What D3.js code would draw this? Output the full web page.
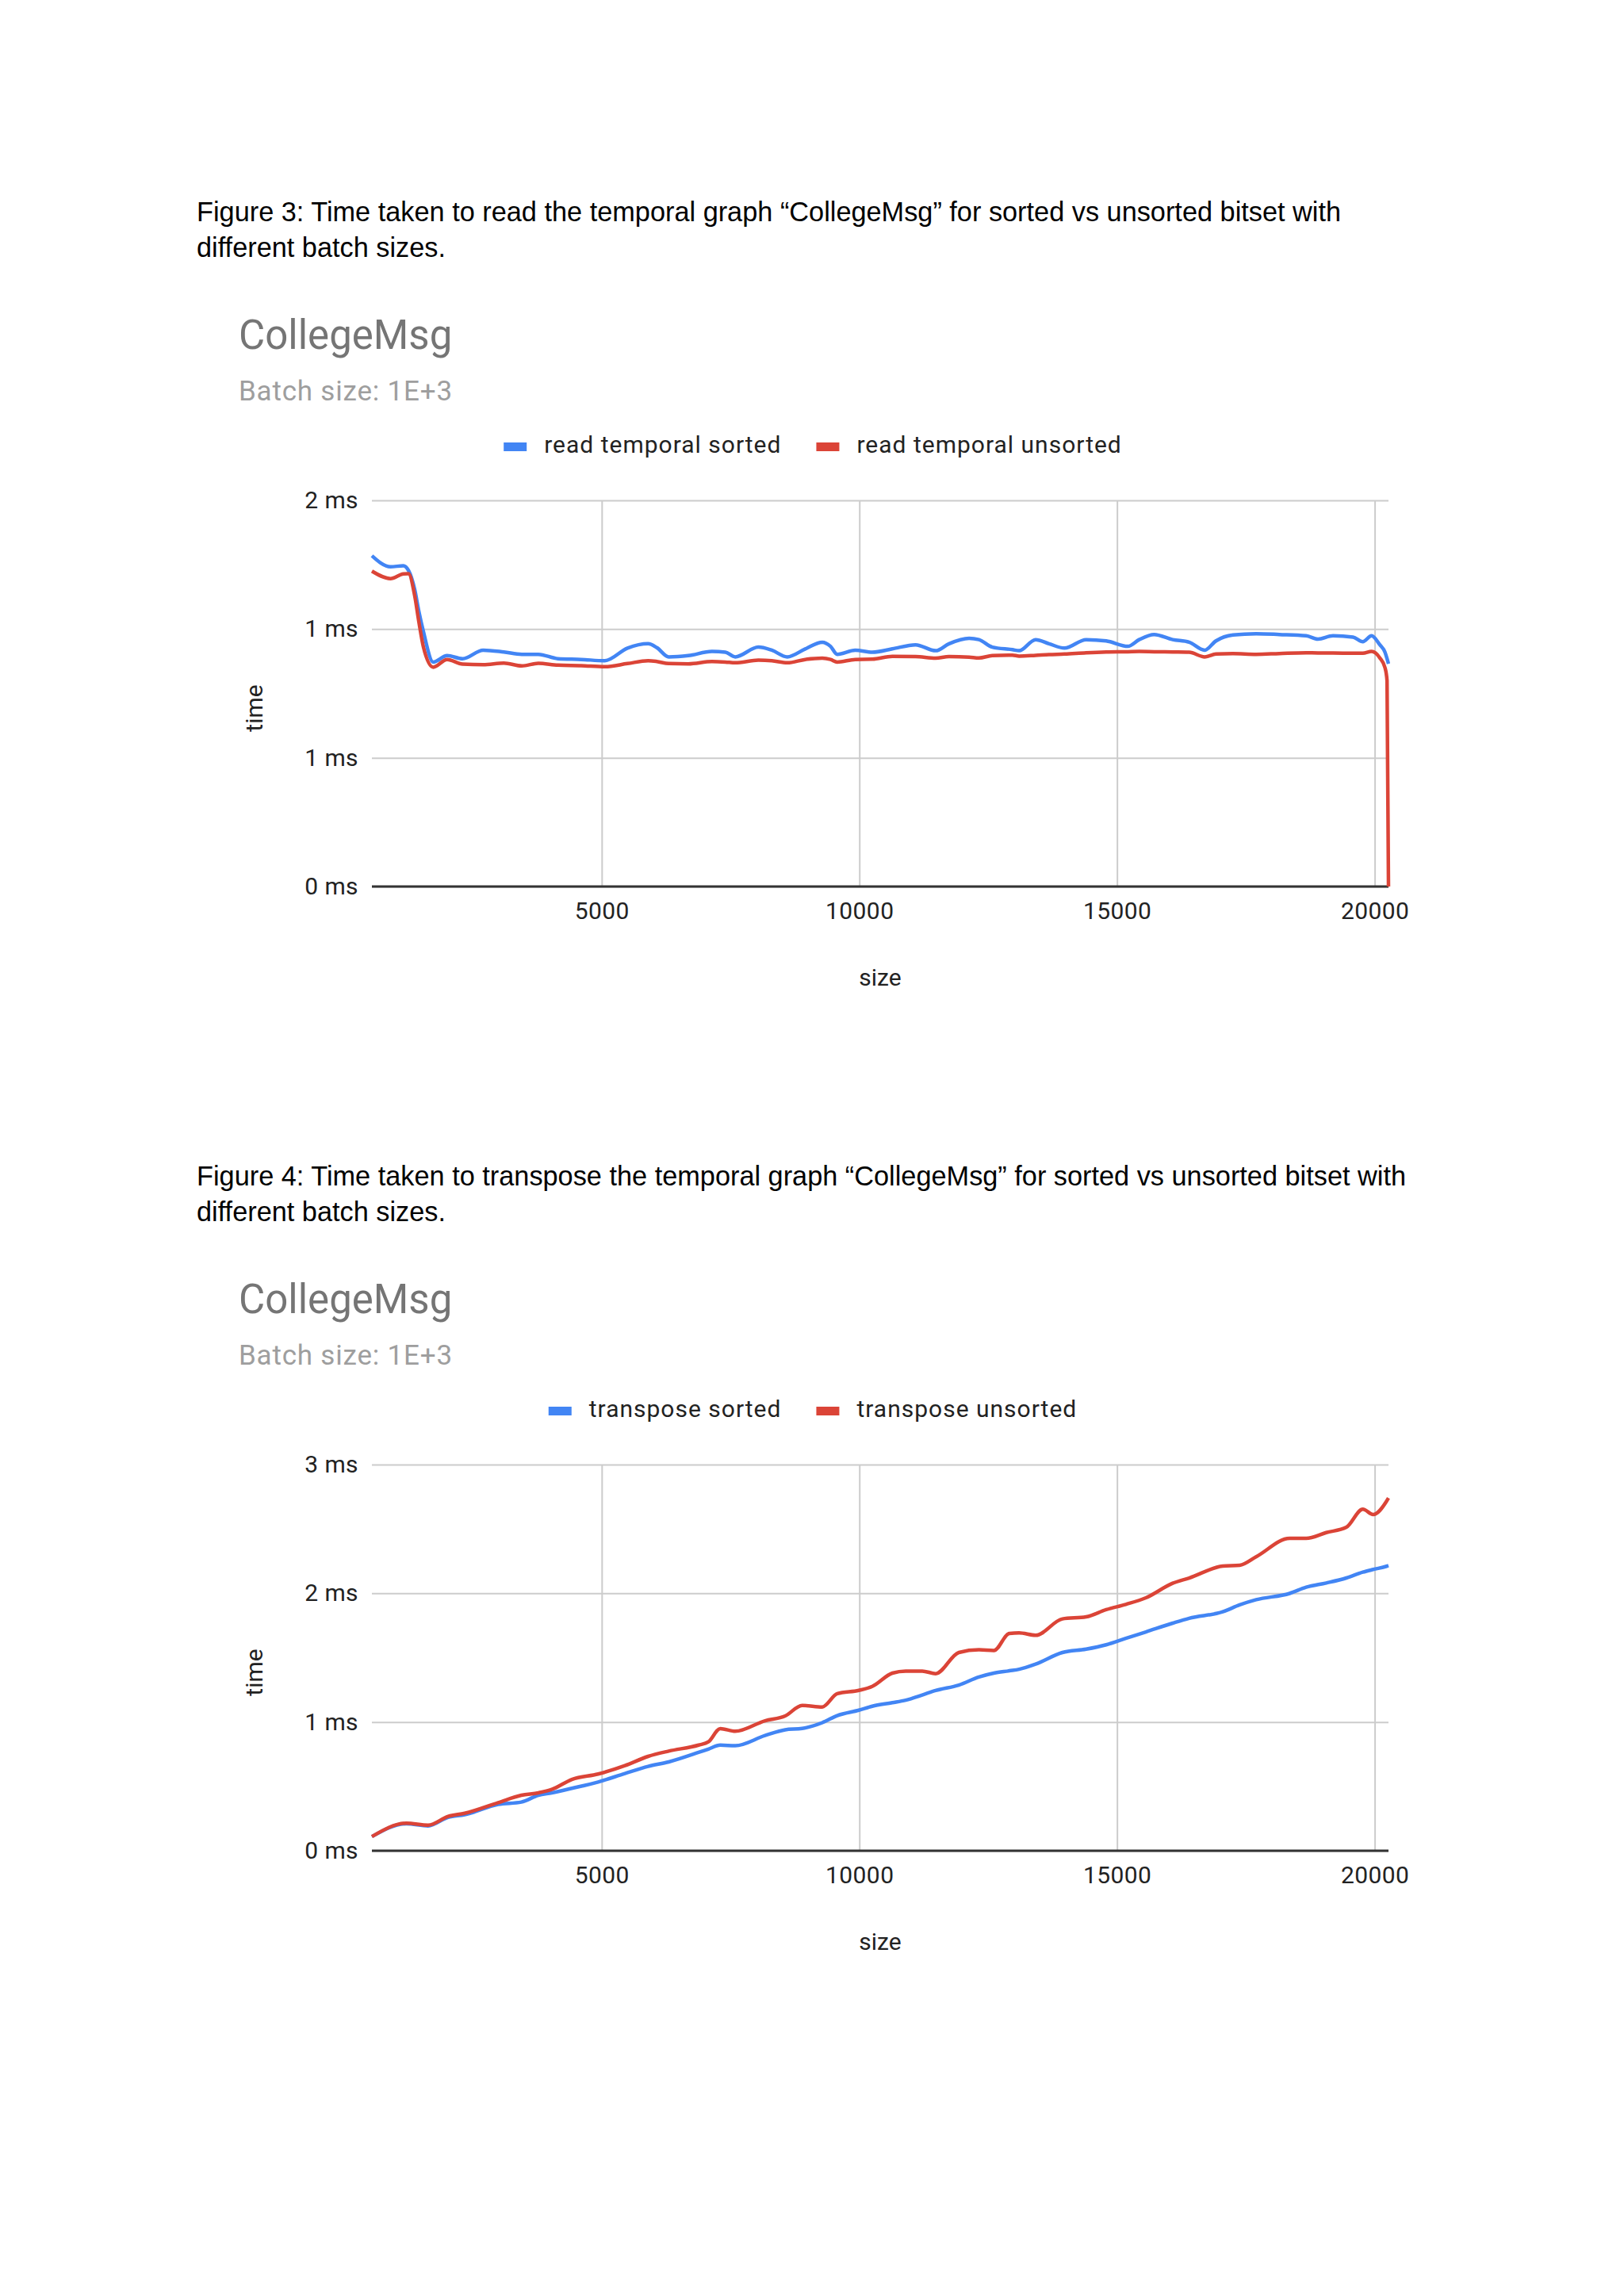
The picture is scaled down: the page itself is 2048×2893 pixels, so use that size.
<!DOCTYPE html>
<html>
<head>
<meta charset="utf-8">
<script src="https://cdn.jsdelivr.net/npm/d3@7"></script>
<style>
  html, body { margin: 0; padding: 0; background: #fff; }
  svg { display: block; }
</style>
</head>
<body>
<svg id="svg" width="2048" height="2893"></svg>
<script>
// ---- Figure 3: read temporal graph ----
var readSizes = [540, 900, 1150, 1250, 1370, 1450, 1540, 1730, 2000, 2300, 2700, 3100, 3450, 3770,
    4150, 4600, 5060, 5500, 5900, 6070, 6300, 6680, 7140, 7400, 7590, 8040, 8300, 8600, 8950, 9280,
    9440, 9570, 9920, 10250, 10640, 11090, 11480, 11740, 12130, 12320, 12580, 12970, 13100, 13420,
    13680, 13980, 14400, 14790, 15210, 15430, 15720, 16080, 16400, 16700, 16920, 17250, 17700, 18150,
    18670, 18900, 19190, 19580, 19770, 19940, 20100, 20200, 20240, 20268];
var readSorted = [1.285, 1.242, 1.246, 1.228, 1.154, 1.07, 0.99, 0.872, 0.897, 0.885, 0.918, 0.911,
    0.902, 0.902, 0.885, 0.882, 0.877, 0.926, 0.943, 0.928, 0.892, 0.897, 0.913, 0.910, 0.892, 0.930,
    0.918, 0.892, 0.923, 0.949, 0.933, 0.902, 0.918, 0.910, 0.923, 0.939, 0.916, 0.943, 0.964, 0.959,
    0.930, 0.920, 0.916, 0.959, 0.943, 0.926, 0.959, 0.954, 0.933, 0.959, 0.979, 0.959, 0.949, 0.918,
    0.954, 0.977, 0.982, 0.979, 0.974, 0.961, 0.974, 0.969, 0.951, 0.974, 0.939, 0.91, 0.885, 0.865];
var readUnsorted = [1.225, 1.196, 1.214, 1.215, 1.13, 1.03, 0.93, 0.852, 0.882, 0.864, 0.862, 0.868,
    0.857, 0.867, 0.86, 0.858, 0.854, 0.866, 0.877, 0.874, 0.866, 0.865, 0.874, 0.872, 0.869, 0.879,
    0.877, 0.869, 0.882, 0.887, 0.882, 0.872, 0.882, 0.883, 0.894, 0.893, 0.887, 0.893, 0.891, 0.888,
    0.897, 0.899, 0.895, 0.898, 0.901, 0.903, 0.908, 0.911, 0.912, 0.913, 0.912, 0.911, 0.910, 0.892,
    0.903, 0.905, 0.902, 0.905, 0.908, 0.907, 0.907, 0.906, 0.906, 0.913, 0.888, 0.85, 0.80, 0];
var readTicks = [0, 0.5, 1, 1.5];
var readTickLabels = ['0 ms', '1 ms', '1 ms', '2 ms'];

// ---- Figure 4: transpose temporal graph ----
var transSizes = [540, 1210, 1630, 2020, 2340, 2990, 3440, 3770, 4030, 4420, 4930, 5450, 5900, 6300,
    6880, 7070, 7300, 7590, 8170, 8560, 8890, 9280, 9570, 9990, 10250, 10640, 10900, 11220, 11480,
    11930, 12320, 12610, 12910, 13100, 13420, 13940, 14400, 14790, 15170, 15560, 16080, 16400, 17050,
    17380, 17700, 18350, 18670, 19060, 19450, 19770, 19970, 20230, 20268];
var transSorted = [0.11, 0.21, 0.193, 0.26, 0.28, 0.36, 0.378, 0.431, 0.45, 0.485, 0.534, 0.60, 0.655,
    0.69, 0.764, 0.79, 0.821, 0.816, 0.895, 0.94, 0.95, 0.995, 1.05, 1.092, 1.123, 1.15, 1.17, 1.21,
    1.245, 1.287, 1.35, 1.38, 1.398, 1.41, 1.45, 1.54, 1.566, 1.60, 1.65, 1.70, 1.768, 1.806, 1.856,
    1.91, 1.95, 1.999, 2.047, 2.08, 2.119, 2.164, 2.185, 2.21, 2.215];
var transUnsorted = [0.11, 0.214, 0.199, 0.267, 0.291, 0.374, 0.431, 0.45, 0.476, 0.554, 0.596, 0.661,
    0.733, 0.774, 0.821, 0.846, 0.949, 0.928, 1.010, 1.047, 1.129, 1.117, 1.220, 1.246, 1.277, 1.380,
    1.396, 1.396, 1.376, 1.540, 1.561, 1.555, 1.688, 1.692, 1.674, 1.801, 1.817, 1.873, 1.914, 1.965,
    2.078, 2.119, 2.211, 2.218, 2.284, 2.427, 2.427, 2.472, 2.513, 2.653, 2.612, 2.715, 2.74];
var transTicks = [0, 1, 2, 3];
var transTickLabels = ['0 ms', '1 ms', '2 ms', '3 ms'];

var sizeTicks = [5000, 10000, 15000, 20000];

var blue = '#4285f4';
var red = '#db4437';

var svg;
var plotLeft = 469;
var plotRight = 1751;
var plotH = 487;

document.addEventListener('DOMContentLoaded', function() {
    svg = d3.select('#svg');
    svg.append('rect').attr('width', 2048).attr('height', 2893).attr('fill', '#fff');

    drawChart({
        top: 631,
        caption: ['Figure 3: Time taken to read the temporal graph \u201cCollegeMsg\u201d for sorted vs unsorted bitset with',
                  'different batch sizes.'],
        names: ['read temporal sorted', 'read temporal unsorted'],
        sizes: readSizes,
        series: [readSorted, readUnsorted],
        ticks: readTicks,
        tickLabels: readTickLabels
    });

    drawChart({
        top: 1847,
        caption: ['Figure 4: Time taken to transpose the temporal graph \u201cCollegeMsg\u201d for sorted vs unsorted bitset with',
                  'different batch sizes.'],
        names: ['transpose sorted', 'transpose unsorted'],
        sizes: transSizes,
        series: [transSorted, transUnsorted],
        ticks: transTicks,
        tickLabels: transTickLabels
    });
});

function drawChart(c) {
    let top = c.top;
    let bottom = top + plotH;
    let g = svg.append('g');

    // caption above the chart
    g.selectAll('text.caption')
        .data(c.caption)
        .enter()
        .append('text')
        .attr('class', 'caption')
        .attr('x', 248)
        .attr('y', (d, i) => top - 352 + i * 45)
        .style('font-family', '"Liberation Sans", Arial, sans-serif')
        .style('font-size', '34.3px')
        .style('fill', '#000')
        .text(d => d);

    // title + subtitle
    g.append('text')
        .attr('x', 301).attr('y', top - 191)
        .style('font-family', 'Roboto, sans-serif')
        .style('font-size', '51px')
        .style('fill', '#757575')
        .text('CollegeMsg');
    g.append('text')
        .attr('x', 301).attr('y', top - 126)
        .style('font-family', 'Roboto, sans-serif')
        .style('font-size', '35px')
        .style('letter-spacing', '0.8px')
        .style('fill', '#9e9e9e')
        .text('Batch size: 1E+3');

    let x = d3.scaleLinear()
              .domain(d3.extent(c.sizes))
              .range([plotLeft, plotRight]);
    let y = d3.scaleLinear()
              .domain([0, d3.max(c.ticks)])
              .range([bottom, top]);

    // horizontal gridlines + y labels
    let yAxis = g.append('g')
        .attr('transform', 'translate(' + plotLeft + ',0)')
        .call(d3.axisLeft(y)
                .tickValues(c.ticks)
                .tickFormat((d, i) => c.tickLabels[i])
                .tickSize(-(plotRight - plotLeft))
                .tickPadding(17));
    yAxis.select('.domain').remove();
    yAxis.selectAll('line').style('stroke', '#cccccc').style('stroke-width', 2);
    yAxis.selectAll('text')
        .style('font-family', 'Roboto, sans-serif')
        .style('font-size', '30px')
        .style('letter-spacing', '0.4px')
        .style('fill', '#222');

    // vertical gridlines + x labels
    let xAxis = g.append('g')
        .attr('transform', 'translate(0,' + bottom + ')')
        .call(d3.axisBottom(x)
                .tickValues(sizeTicks)
                .tickFormat(d3.format('d'))
                .tickSize(-plotH)
                .tickPadding(20));
    xAxis.select('.domain').remove();
    xAxis.selectAll('line').style('stroke', '#cccccc').style('stroke-width', 2);
    xAxis.selectAll('text')
        .style('font-family', 'Roboto, sans-serif')
        .style('font-size', '30px')
        .style('letter-spacing', '0.4px')
        .style('fill', '#222');

    // baseline at 0
    g.append('line')
        .attr('x1', plotLeft).attr('x2', plotRight)
        .attr('y1', y(0)).attr('y2', y(0))
        .style('stroke', '#333')
        .style('stroke-width', 3);

    // lines
    let colors = [blue, red];
    c.series.forEach(function(vals, k) {
        let line = d3.line()
            .x((d, i) => x(c.sizes[i]))
            .y(d => y(d))
            .curve(d3.curveMonotoneX);
        g.append('path')
            .datum(vals)
            .attr('d', line)
            .style('fill', 'none')
            .style('stroke', colors[k])
            .style('stroke-width', 4.5)
            .style('stroke-linejoin', 'round');
    });

    // axis titles
    g.append('text')
        .attr('x', (plotLeft + plotRight) / 2)
        .attr('y', top + 612)
        .attr('text-anchor', 'middle')
        .style('font-family', 'Roboto, sans-serif')
        .style('font-size', '30px')
        .style('fill', '#222')
        .text('size');
    g.append('text')
        .attr('transform', 'translate(331,' + (top + 262) + ') rotate(-90)')
        .attr('text-anchor', 'middle')
        .style('font-family', 'Roboto, sans-serif')
        .style('font-size', '30px')
        .style('fill', '#222')
        .text('time');

    // legend, centred on x = 1025
    let leg = g.append('g');
    let items = leg.selectAll('g')
        .data(c.names)
        .enter()
        .append('g');
    items.append('rect')
        .attr('y', top - 73)
        .attr('width', 29)
        .attr('height', 11)
        .style('fill', (d, i) => colors[i]);
    items.append('text')
        .attr('x', 51)
        .attr('y', top - 60)
        .style('font-family', 'Roboto, sans-serif')
        .style('font-size', '30px')
        .style('letter-spacing', '1px')
        .style('fill', '#222')
        .text(d => d);
    let widths = [];
    items.each(function() { widths.push(51 + d3.select(this).select('text').node().getComputedTextLength()); });
    let gap = 44;
    let total = d3.sum(widths) + gap;
    let start = 1025 - total / 2;
    items.attr('transform', (d, i) => 'translate(' + (i === 0 ? start : start + widths[0] + gap) + ',0)');
}
</script>
</body>
</html>
